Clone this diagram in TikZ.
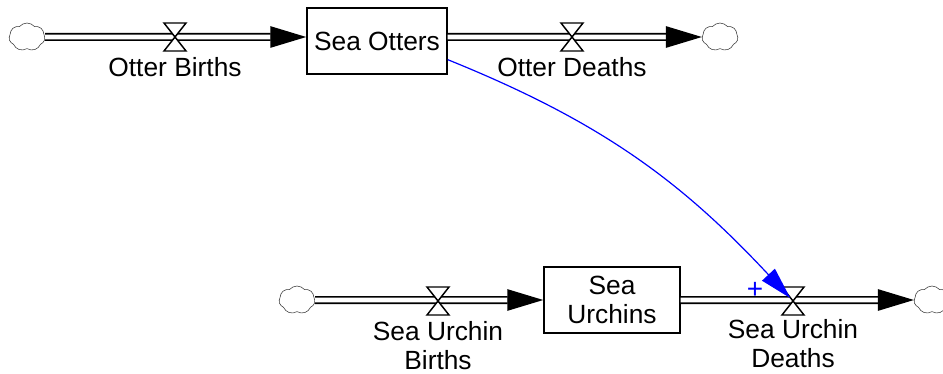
\documentclass[tikz,border=0pt]{standalone}
\usepackage{fontspec}
\setmainfont{Liberation Sans}
\usepackage{tikz}
\usetikzlibrary{arrows.meta,shapes.symbols}
\definecolor{linkblue}{HTML}{0000FF}
\newcommand{\sdfont}{\fontsize{19.75}{21.75}\selectfont}
\tikzset{
  stock/.style={draw,line width=1.1pt,minimum height=49.5pt,inner sep=0pt,align=center,font=\sdfont},
  cloudy/.style={cloud,cloud puffs=7,cloud puff arc=100,aspect=1.25,draw=black!80,thin,minimum width=27pt,minimum height=21pt,inner sep=0pt},
  pipe/.style={double,line width=1.25pt,double distance=3.5pt,-{Triangle[length=27pt,width=16pt]}},
  lbl/.style={font=\sdfont,inner sep=0pt,align=center},
  link/.style={linkblue,line width=0.9pt,-{Triangle[length=24pt,width=13pt]}},
  pol/.style={text=linkblue,font=\fontsize{21}{21}\selectfont,inner sep=0pt},
  valve/.pic={
    \draw[fill=white,line width=1.1pt] (-11,-14) -- (11,-14) -- (-11,14) -- (11,14) -- cycle;
    \coordinate (-c) at (0,0);
  },
}

\begin{document}
\begin{tikzpicture}[x=0.75pt,y=-0.75pt]
  \useasboundingbox (0,0) rectangle (943,374);
  % otters
  \node[cloudy] (cob) at (27,37) {};
  \node[stock,minimum width=105pt] (so) at (377,41) {Sea Otters};
  \node[cloudy] (cod) at (720,37) {};
  \draw[pipe] (cob) -- (cob -| so.west);
  \draw[pipe] (so.east |- cob) -- (cod);
  \pic (vob) at (175,37) {valve};
  \pic (vod) at (572,37) {valve};
  \node[lbl,anchor=base] (lob) at (175,77) {Otter Births};
  \node[lbl,anchor=base] (lod) at (572,77) {Otter Deaths};
  % urchins
  \node[cloudy] (cub) at (297,300) {};
  \node[stock,minimum width=102pt] (su) at (612,300) {Sea\\Urchins};
  \node[cloudy] (cud) at (932,300) {};
  \draw[pipe] (cub) -- (cub -| su.west);
  \draw[pipe] (su.east |- cub) -- (cud);
  \pic (vub) at (438,301) {valve};
  \pic (vud) at (793,301) {valve};
  \node[lbl] (lub) at (438,346) {Sea Urchin\\Births};
  \node[lbl] (lud) at (793,344) {Sea Urchin\\Deaths};
  % otters eat urchins
  \draw[link,shorten >=3pt] ([yshift=-14pt]so.east) to[out=-22,in=133] (vud-c);
  \node[pol] (plus) at (755,290) {+};
\end{tikzpicture}
\end{document}
